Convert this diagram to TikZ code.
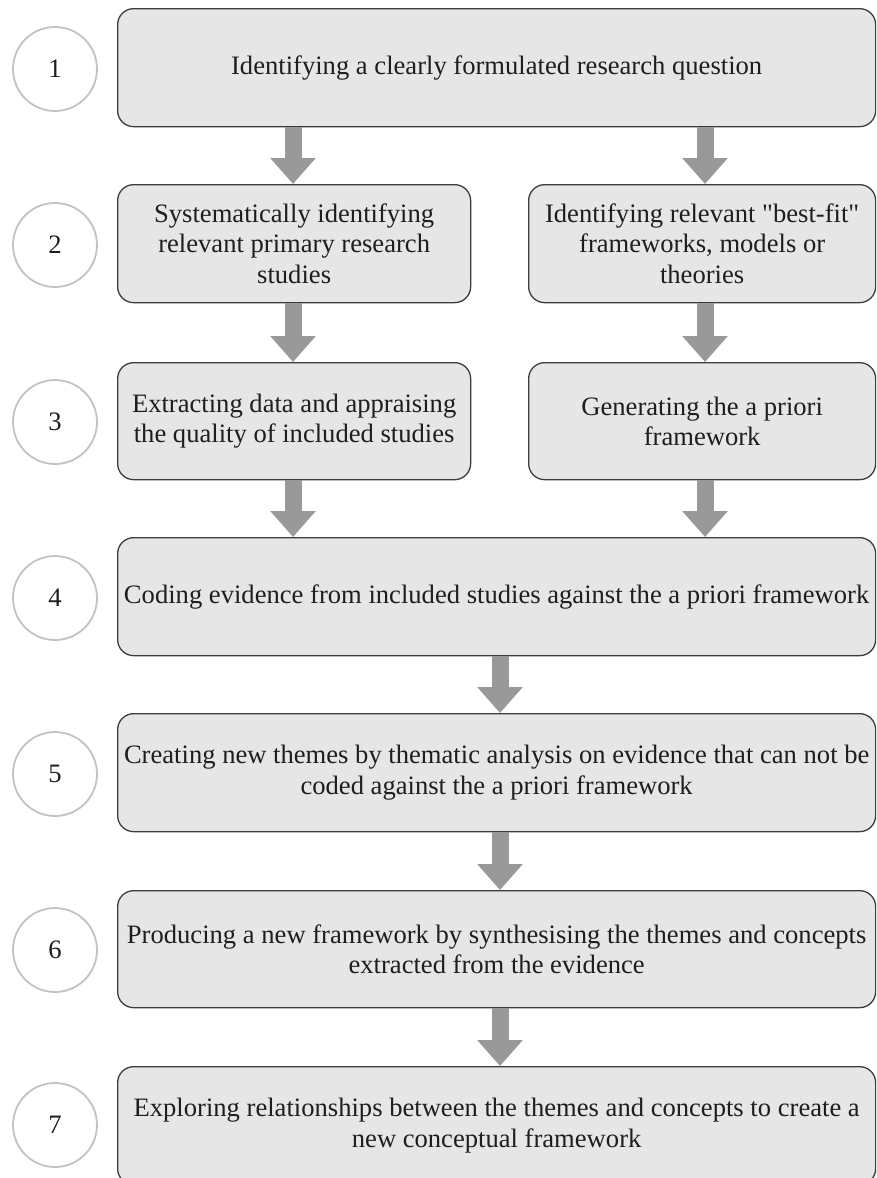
\documentclass[tikz,border=0pt]{standalone}
\usepackage{fontspec}
\setmainfont{Liberation Serif}[Ligatures=TeXOff]
\usetikzlibrary{arrows.meta}

\definecolor{boxfill}{HTML}{E6E6E6}
\definecolor{boxline}{HTML}{3C3C3C}
\definecolor{ringline}{HTML}{C2C2C2}
\definecolor{arrowgray}{HTML}{999999}
\definecolor{inkcol}{HTML}{1E1E1E}

\tikzset{
  stagebox/.style={rectangle, rounded corners=16pt, draw=boxline, fill=boxfill,
    line width=1.3pt, inner sep=0pt, align=center, anchor=north west,
    text=inkcol, font=\fontsize{26.6}{30.5}\selectfont},
  numring/.style={circle, draw=ringline, fill=white, line width=1.8pt,
    minimum size=84pt, inner sep=0pt, text=inkcol,
    font=\fontsize{26.6}{30.5}\selectfont},
  fatarrow/.style={draw=arrowgray, line width=17pt,
    -{Triangle[width=44pt,length=26pt]}}
}

\begin{document}
\begin{tikzpicture}[x=1pt,y=-1pt]
\useasboundingbox (0,0) rectangle (876,1178);
\clip (0,0) rectangle (876,1178);

% arrow columns
\coordinate (lx) at (293,0);
\coordinate (rx) at (705,0);
\coordinate (mx) at (500,0);

% stage boxes
\node[stagebox, minimum width=758pt, minimum height=118pt] (b1) at (117,8)
  {Identifying a clearly formulated research question};
\node[stagebox, minimum width=353pt, minimum height=118pt] (b2l) at (117,184)
  {Systematically identifying\\relevant primary research\\studies};
\node[stagebox, minimum width=347pt, minimum height=118pt] (b2r) at (528,184)
  {Identifying relevant "best-fit"\\frameworks, models or\\theories};
\node[stagebox, minimum width=353pt, minimum height=117pt] (b3l) at (117,362)
  {Extracting data and appraising\\the quality of included studies};
\node[stagebox, minimum width=347pt, minimum height=117pt] (b3r) at (528,362)
  {Generating the a priori\\framework};
\node[stagebox, minimum width=758pt, minimum height=118pt] (b4) at (117,537)
  {Coding evidence from included studies against the a priori framework};
\node[stagebox, minimum width=758pt, minimum height=118pt] (b5) at (117,713)
  {Creating new themes by thematic analysis on evidence that can not be\\coded against the a priori framework};
\node[stagebox, minimum width=758pt, minimum height=117pt] (b6) at (117,890)
  {Producing a new framework by synthesising the themes and concepts\\extracted from the evidence};
\node[stagebox, minimum width=758pt, minimum height=118pt] (b7) at (117,1066)
  {Exploring relationships between the themes and concepts to create a\\new conceptual framework};

% step numbers
\node[numring] (n1) at (55,69) {1};
\node[numring] (n2) at (55,245) {2};
\node[numring] (n3) at (55,422) {3};
\node[numring] (n4) at (55,598) {4};
\node[numring] (n5) at (55,774) {5};
\node[numring] (n6) at (55,950) {6};
\node[numring] (n7) at (55,1125) {7};

% flow arrows
\draw[fatarrow] (b1.south -| lx) -- (b2l.north -| lx);
\draw[fatarrow] (b1.south -| rx) -- (b2r.north -| rx);
\draw[fatarrow] (b2l.south -| lx) -- (b3l.north -| lx);
\draw[fatarrow] (b2r.south -| rx) -- (b3r.north -| rx);
\draw[fatarrow] (b3l.south -| lx) -- (b4.north -| lx);
\draw[fatarrow] (b3r.south -| rx) -- (b4.north -| rx);
\draw[fatarrow] (b4.south -| mx) -- (b5.north -| mx);
\draw[fatarrow] (b5.south -| mx) -- (b6.north -| mx);
\draw[fatarrow] (b6.south -| mx) -- (b7.north -| mx);
\end{tikzpicture}
\end{document}
